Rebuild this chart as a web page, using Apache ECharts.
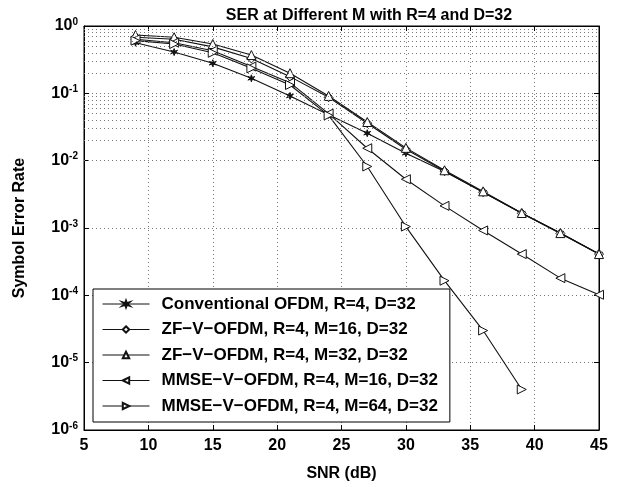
<!DOCTYPE html>
<html><head><meta charset="utf-8">
<script src="https://cdn.jsdelivr.net/npm/echarts@6/dist/echarts.min.js"></script>
<style>html,body{margin:0;padding:0;background:#fff}#c{width:629px;height:487px}</style>
</head><body><div id="c"></div>
<script>
// ---- data ----
const snr = [9, 12, 15, 18, 21, 24, 27, 30, 33, 36, 39, 42, 45];
const conventional = [0.565, 0.41, 0.28, 0.167, 0.0915, 0.048, 0.0256, 0.0129, 0.0069, 0.0034, 0.00166, 0.00084, 0.00041];
const zf16 = [0.68, 0.635, 0.49, 0.33, 0.177, 0.0875, 0.036, 0.0148, 0.0070, 0.0034, 0.00165, 0.00083, 0.00041];
const zf32 = [0.735, 0.68, 0.54, 0.37, 0.199, 0.0915, 0.0375, 0.0155, 0.0072, 0.0035, 0.00167, 0.00084, 0.00041];
const mmse16 = [0.635, 0.565, 0.43, 0.25, 0.144, 0.05, 0.0153, 0.0053, 0.00213, 0.00092, 0.00041, 0.00018, 0.000102];
const mmse64 = [0.606, 0.54, 0.40, 0.235, 0.133, 0.047, 0.0082, 0.00105, 0.000165, 0.00003, 0.000004];
const seriesNames = [
  'Conventional OFDM, R=4, D=32',
  'ZF\u2212V\u2212OFDM, R=4, M=16, D=32',
  'ZF\u2212V\u2212OFDM, R=4, M=32, D=32',
  'MMSE\u2212V\u2212OFDM, R=4, M=16, D=32',
  'MMSE\u2212V\u2212OFDM, R=4, M=64, D=32'
];
const titleText = 'SER at Different M with R=4 and D=32';
const xTitle = 'SNR (dB)';
const yTitle = 'Symbol Error Rate';
const xMin = 5, xMax = 45, xStep = 5;
const yMin = 1e-6, yMax = 1;
const decades = [1e-6, 1e-5, 1e-4, 1e-3, 1e-2, 1e-1];
const minorMultipliers = [2, 3, 4, 5, 6, 7, 8, 9];

// ---- chart ----
const FONT = '"Liberation Sans", Arial, Helvetica, sans-serif';
const pairs = arr => arr.map((v, i) => [snr[i], v]);
const allData = [conventional, zf16, zf32, mmse16, mmse64];
const starPath = 'path://M0,-6L1.3,-1.6L5.2,-3L2.2,0L5.2,3L1.3,1.6L0,6L-1.3,1.6L-5.2,3L-2.2,0L-5.2,-3L-1.3,-1.6Z';
const symbols = [starPath, 'diamond', 'triangle', 'triangle', 'triangle'];
const rotations = [0, 0, 0, 90, -90];
const sizes = [7, 9, 9, 9, 9];

const minorLines = [];
decades.forEach(d => minorMultipliers.forEach(m => minorLines.push({ yAxis: d * m })));

const series = allData.map((arr, i) => ({
  name: seriesNames[i],
  type: 'line',
  data: pairs(arr),
  symbol: symbols[i],
  symbolRotate: rotations[i],
  symbolSize: sizes[i],
  showAllSymbol: true,
  lineStyle: { color: '#111', width: 1.1 },
  itemStyle: { color: i === 0 ? '#111' : '#fff', borderColor: '#111', borderWidth: 1 },
  z: 3
}));
series.push({
  name: 'minorgrid', type: 'line', data: [], silent: true,
  markLine: {
    silent: true, symbol: 'none', label: { show: false },
    lineStyle: { color: '#777', type: [1, 3], width: 1 },
    data: minorLines
  }
});

const chart = echarts.init(document.getElementById('c'));
chart.setOption({
  animation: false,
  backgroundColor: '#fff',
  title: {
    text: titleText, left: 364, top: 3, textAlign: 'center',
    textStyle: { fontFamily: FONT, fontSize: 16, fontWeight: 'bold', color: '#000' }
  },
  grid: { left: 84, right: 30, top: 26, bottom: 56, show: true, borderColor: '#000', borderWidth: 1 },
  xAxis: [{
    type: 'value', min: xMin, max: xMax, interval: xStep,
    name: xTitle, nameLocation: 'middle', nameGap: 36,
    nameTextStyle: { fontFamily: FONT, fontSize: 16, fontWeight: 'bold', color: '#000' },
    axisLine: { lineStyle: { color: '#000' } },
    axisTick: { inside: true, length: 5, lineStyle: { color: '#000' } },
    axisLabel: { margin: 8, fontFamily: FONT, fontSize: 16, fontWeight: 'bold', color: '#000' },
    splitLine: { show: true, lineStyle: { color: '#777', type: [1, 3] } }
  }, {
    type: 'value', min: xMin, max: xMax, interval: xStep, position: 'top',
    axisLine: { lineStyle: { color: '#000' } },
    axisTick: { inside: true, length: 5, lineStyle: { color: '#000' } },
    axisLabel: { show: false }, splitLine: { show: false }
  }],
  yAxis: [{
    type: 'log', logBase: 10, min: yMin, max: yMax, interval: 1,
    name: yTitle, nameLocation: 'middle', nameGap: 56,
    nameTextStyle: { fontFamily: FONT, fontSize: 16, fontWeight: 'bold', color: '#000' },
    axisLine: { lineStyle: { color: '#000' } },
    axisTick: { inside: true, length: 5, lineStyle: { color: '#000' } },
    axisLabel: {
      margin: 6,
      formatter: v => '{b|10}{s|' + Math.round(Math.log10(v)) + '}',
      rich: {
        b: { fontFamily: FONT, fontSize: 16, fontWeight: 'bold', color: '#000', lineHeight: 18 },
        s: { fontFamily: FONT, fontSize: 10, fontWeight: 'bold', color: '#000', verticalAlign: 'top', lineHeight: 18, padding: [0, 0, 8, 0] }
      }
    },
    splitLine: { show: true, lineStyle: { color: '#777', type: [1, 3] } }
  }, {
    type: 'log', logBase: 10, min: yMin, max: yMax, interval: 1, position: 'right',
    axisLine: { lineStyle: { color: '#000' } },
    axisTick: { inside: true, length: 5, lineStyle: { color: '#000' } },
    axisLabel: { show: false }, splitLine: { show: false }
  }],
  legend: {
    data: seriesNames, orient: 'vertical', left: 93, top: 289,
    backgroundColor: '#fff', borderColor: '#000', borderWidth: 1,
    padding: [6.5, 12, 7.5, 9], itemWidth: 47, itemHeight: 8, itemGap: 8.5,
    lineStyle: { width: 1 },
    textStyle: { fontFamily: FONT, fontSize: 17, fontWeight: 'bold', color: '#000', lineHeight: 17, padding: [0, 0, 0, 7] }
  },
  series: series
});
</script></body></html>
